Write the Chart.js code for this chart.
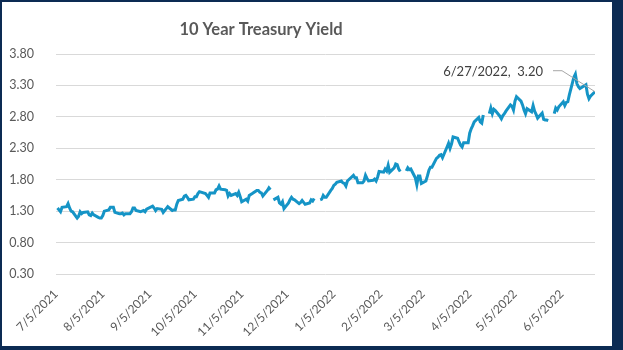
<!DOCTYPE html>
<html>
<head>
<meta charset="utf-8">
<script src="https://cdn.jsdelivr.net/npm/chart.js@4.4.1/dist/chart.umd.min.js"></script>
<style>
    body { margin: 0; background: #0c2b53; width: 623px; height: 350px; overflow: hidden; }
    #wrap { position: absolute; left: 2px; top: 2px; width: 610px; height: 344px; background: #ffffff; }
</style>
</head>
<body>
<div id="wrap"><canvas id="yield-chart"></canvas></div>
<script>
// --- Daily 10Y yields, 7/2021 - 6/2022 (null = market holiday, leaves a gap) ---
const TITLE = '10 Year Treasury Yield';
const AXIS_START = '7/5/2021';

const tradeDates = [
    '7/6/2021','7/7/2021','7/8/2021','7/9/2021','7/12/2021','7/13/2021','7/14/2021','7/15/2021','7/16/2021','7/19/2021','7/20/2021','7/21/2021','7/22/2021','7/23/2021','7/26/2021','7/27/2021','7/28/2021','7/29/2021','7/30/2021',
    '8/2/2021','8/3/2021','8/4/2021','8/5/2021','8/6/2021','8/9/2021','8/10/2021','8/11/2021','8/12/2021','8/13/2021','8/16/2021','8/17/2021','8/18/2021','8/19/2021','8/20/2021','8/23/2021','8/24/2021','8/25/2021','8/26/2021','8/27/2021','8/30/2021','8/31/2021',
    '9/1/2021','9/2/2021','9/3/2021','9/7/2021','9/8/2021','9/9/2021','9/10/2021','9/13/2021','9/14/2021','9/15/2021','9/16/2021','9/17/2021','9/20/2021','9/21/2021','9/22/2021','9/23/2021','9/24/2021','9/27/2021','9/28/2021','9/29/2021','9/30/2021',
    '10/1/2021','10/4/2021','10/5/2021','10/6/2021','10/7/2021','10/8/2021','10/12/2021','10/13/2021','10/14/2021','10/15/2021','10/18/2021','10/19/2021','10/20/2021','10/21/2021','10/22/2021','10/25/2021','10/26/2021','10/27/2021','10/28/2021','10/29/2021',
    '11/1/2021','11/2/2021','11/3/2021','11/4/2021','11/5/2021','11/8/2021','11/9/2021','11/10/2021','11/12/2021','11/15/2021','11/16/2021','11/17/2021','11/18/2021','11/19/2021','11/22/2021','11/23/2021','11/24/2021','11/25/2021','11/26/2021','11/29/2021','11/30/2021',
    '12/1/2021','12/2/2021','12/3/2021','12/6/2021','12/7/2021','12/8/2021','12/9/2021','12/10/2021','12/13/2021','12/14/2021','12/15/2021','12/16/2021','12/17/2021','12/20/2021','12/21/2021','12/22/2021','12/23/2021','12/24/2021','12/27/2021','12/28/2021','12/29/2021','12/30/2021','12/31/2021',
    '1/3/2022','1/4/2022','1/5/2022','1/6/2022','1/7/2022','1/10/2022','1/11/2022','1/12/2022','1/13/2022','1/14/2022','1/18/2022','1/19/2022','1/20/2022','1/21/2022','1/24/2022','1/25/2022','1/26/2022','1/27/2022','1/28/2022','1/31/2022',
    '2/1/2022','2/2/2022','2/3/2022','2/4/2022','2/7/2022','2/8/2022','2/9/2022','2/10/2022','2/11/2022','2/14/2022','2/15/2022','2/16/2022','2/17/2022','2/18/2022','2/21/2022','2/22/2022','2/23/2022','2/24/2022','2/25/2022','2/28/2022',
    '3/1/2022','3/2/2022','3/3/2022','3/4/2022','3/7/2022','3/8/2022','3/9/2022','3/10/2022','3/11/2022','3/14/2022','3/15/2022','3/16/2022','3/17/2022','3/18/2022','3/21/2022','3/22/2022','3/23/2022','3/24/2022','3/25/2022','3/28/2022','3/29/2022','3/30/2022','3/31/2022',
    '4/1/2022','4/4/2022','4/5/2022','4/6/2022','4/7/2022','4/8/2022','4/11/2022','4/12/2022','4/13/2022','4/14/2022','4/15/2022','4/18/2022','4/19/2022','4/20/2022','4/21/2022','4/22/2022','4/25/2022','4/26/2022','4/27/2022','4/28/2022','4/29/2022',
    '5/2/2022','5/3/2022','5/4/2022','5/5/2022','5/6/2022','5/9/2022','5/10/2022','5/11/2022','5/12/2022','5/13/2022','5/16/2022','5/17/2022','5/18/2022','5/19/2022','5/20/2022','5/23/2022','5/24/2022','5/25/2022','5/26/2022','5/27/2022','5/30/2022','5/31/2022',
    '6/1/2022','6/2/2022','6/3/2022','6/6/2022','6/7/2022','6/8/2022','6/9/2022','6/10/2022','6/13/2022','6/14/2022','6/15/2022','6/16/2022','6/17/2022','6/21/2022','6/22/2022','6/23/2022','6/24/2022','6/27/2022'
];

const yields = [
    1.35,1.32,1.29,1.36,1.37,1.42,1.35,1.30,1.29,1.19,1.22,1.29,1.26,1.28,1.29,1.24,1.23,1.27,1.24,
    1.20,1.19,1.19,1.23,1.30,1.32,1.36,1.36,1.36,1.28,1.26,1.26,1.27,1.24,1.26,1.26,1.29,1.35,1.35,1.31,1.29,1.30,
    1.31,1.29,1.33,1.38,1.35,1.31,1.34,1.33,1.28,1.31,1.34,1.37,1.31,1.32,1.32,1.41,1.47,1.49,1.54,1.55,1.52,
    1.48,1.49,1.53,1.53,1.58,1.61,1.58,1.55,1.52,1.59,1.59,1.64,1.65,1.70,1.65,1.64,1.63,1.54,1.58,1.55,
    1.58,1.55,1.60,1.53,1.45,1.49,1.46,1.55,1.58,1.63,1.63,1.60,1.59,1.54,1.63,1.67,1.64,null,1.48,1.52,1.43,
    1.41,1.45,1.34,1.43,1.48,1.52,1.49,1.48,1.42,1.44,1.47,1.44,1.41,1.43,1.48,1.46,1.50,null,1.48,1.49,1.55,1.52,1.52,
    1.63,1.66,1.71,1.73,1.76,1.78,1.75,1.74,1.70,1.78,1.87,1.83,1.83,1.75,1.75,1.78,1.87,1.82,1.78,1.79,
    1.81,1.78,1.84,1.93,1.92,1.97,1.94,2.03,1.92,1.99,2.05,2.04,1.97,1.93,null,1.94,1.99,1.96,1.97,1.83,
    1.72,1.86,1.86,1.74,1.78,1.86,1.95,2.00,2.00,2.14,2.16,2.19,2.20,2.15,2.32,2.38,2.30,2.37,2.48,2.46,2.40,2.35,2.32,
    2.39,2.39,2.54,2.61,2.66,2.72,2.79,2.72,2.70,2.83,null,2.85,2.94,2.85,2.92,2.90,2.81,2.77,2.82,2.85,2.89,
    2.99,2.97,2.91,3.05,3.12,3.05,2.99,2.91,2.85,2.93,2.88,2.98,2.89,2.84,2.78,2.86,2.76,2.75,2.75,2.74,null,2.85,
    2.94,2.91,2.96,3.04,2.98,3.03,3.04,3.15,3.43,3.48,3.33,3.28,3.25,3.31,3.16,3.09,3.13,3.20
];

const tickLabels = ['7/5/2021','8/5/2021','9/5/2021','10/5/2021','11/5/2021','12/5/2021',
    '1/5/2022','2/5/2022','3/5/2022','4/5/2022','5/5/2022','6/5/2022'];
const yTicks = [0.30, 0.80, 1.30, 1.80, 2.30, 2.80, 3.30, 3.80];

const LINE_COLOR = '#1594c6';
const TEXT_COLOR = '#595959';
const FONT = 'Lato';

// days since the axis start, so the x axis behaves like a date axis
function dayIndex(str) {
    const [m, d, y] = str.split('/').map(Number);
    const [m0, d0, y0] = AXIS_START.split('/').map(Number);
    return Math.round((Date.UTC(y, m - 1, d) - Date.UTC(y0, m0 - 1, d0)) / 86400000);
}

const points = tradeDates.map((d, i) => ({ x: dayIndex(d), y: yields[i] }));
const tickDays = tickLabels.map(dayIndex);
const lastIdx = tradeDates.length - 1;

// title + data label on the last point with its leader line
const yieldDecorations = {
    id: 'yieldDecorations',
    afterDraw(chart) {
        const ctx = chart.ctx;
        ctx.save();
        ctx.fillStyle = TEXT_COLOR;
        ctx.font = `bold 16.5px ${FONT}`;
        ctx.textAlign = 'center';
        ctx.textBaseline = 'alphabetic';
        ctx.fillText(TITLE, 259, 33);

        const pt = chart.getDatasetMeta(0).data[lastIdx];
        ctx.strokeStyle = '#a6a6a6';
        ctx.lineWidth = 1;
        ctx.beginPath();
        ctx.moveTo(pt.x - 42, pt.y - 21);
        ctx.lineTo(pt.x - 33, pt.y - 21);
        ctx.lineTo(pt.x, pt.y);
        ctx.stroke();

        ctx.fillStyle = '#404040';
        ctx.font = `13px ${FONT}`;
        ctx.textAlign = 'right';
        ctx.textBaseline = 'middle';
        ctx.fillText(`${tradeDates[lastIdx]},  ${yields[lastIdx].toFixed(2)}`, pt.x - 52, pt.y - 20);
        ctx.restore();
    }
};

new Chart(document.getElementById('yield-chart'), {
    type: 'line',
    data: {
        datasets: [{
            data: points,
            borderColor: LINE_COLOR,
            borderWidth: 3,
            pointRadius: 0,
            spanGaps: false,
            tension: 0
        }]
    },
    options: {
        responsive: true,
        maintainAspectRatio: false,
        animation: false,
        layout: { padding: { top: 52, right: 17, left: 0, bottom: 0 } },
        plugins: {
            legend: { display: false },
            title: { display: false },
            tooltip: { enabled: false }
        },
        scales: {
            x: {
                type: 'linear',
                min: 0,
                max: dayIndex(tradeDates[lastIdx]),
                afterBuildTicks: (scale) => { scale.ticks = tickDays.map(v => ({ value: v })); },
                afterFit: (scale) => { scale.height = 72; },
                ticks: {
                    autoSkip: false,
                    minRotation: 45,
                    maxRotation: 45,
                    padding: 5,
                    color: TEXT_COLOR,
                    font: { family: FONT, size: 12 },
                    callback: (value, index) => tickLabels[index]
                },
                grid: { display: false },
                border: { display: false }
            },
            y: {
                min: yTicks[0],
                max: yTicks[yTicks.length - 1],
                afterBuildTicks: (scale) => { scale.ticks = yTicks.map(v => ({ value: v })); },
                afterFit: (scale) => { scale.width = 54; },
                ticks: {
                    padding: 22,
                    color: TEXT_COLOR,
                    font: { family: FONT, size: 12.5 },
                    callback: (value) => value.toFixed(2)
                },
                grid: { color: '#d9d9d9', drawTicks: false },
                border: { display: false }
            }
        }
    },
    plugins: [yieldDecorations]
});
</script>
</body>
</html>
